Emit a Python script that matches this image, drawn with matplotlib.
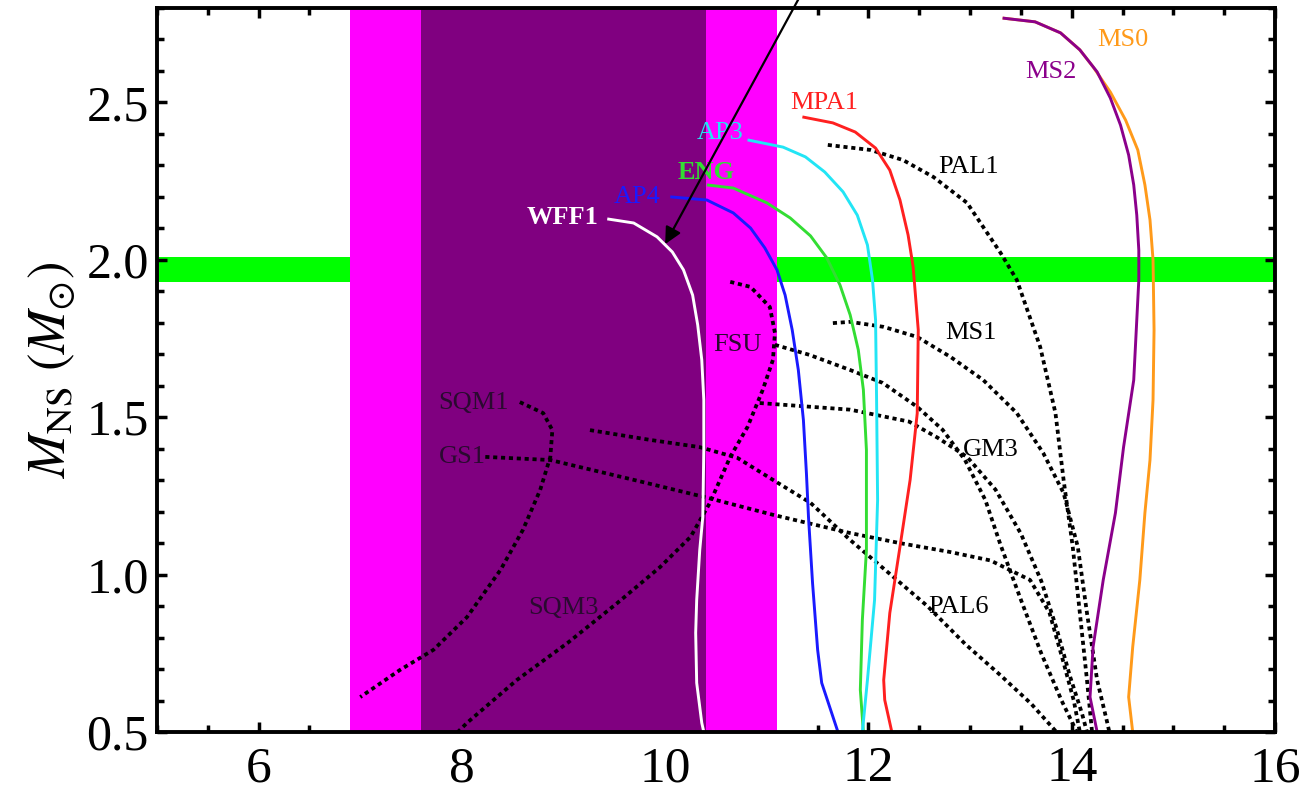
import matplotlib
matplotlib.use("Agg")
import matplotlib.pyplot as plt
from matplotlib.ticker import MultipleLocator

plt.rcParams['font.family'] = ['Liberation Serif', 'DejaVu Serif']
plt.rcParams['mathtext.fontset'] = 'stix'

# ---------------- data (radius km, mass Msun) ----------------
wff1_r = [9.43, 9.69, 9.92, 10.07, 10.18, 10.27, 10.32, 10.36, 10.38, 10.38, 10.37, 10.34, 10.31, 10.30, 10.31, 10.36, 10.38]
wff1_m = [2.13, 2.117, 2.073, 2.025, 1.968, 1.888, 1.793, 1.682, 1.555, 1.396, 1.183, 1.078, 0.919, 0.815, 0.656, 0.529, 0.50]

ap4_r = [10.05, 10.41, 10.67, 10.84, 10.98, 11.10, 11.18, 11.25, 11.31, 11.36, 11.39, 11.41, 11.45, 11.50, 11.54, 11.70]
ap4_m = [2.200, 2.190, 2.149, 2.101, 2.038, 1.968, 1.888, 1.777, 1.650, 1.491, 1.320, 1.183, 0.973, 0.761, 0.656, 0.500]

eng_r = [10.41, 10.67, 11.00, 11.23, 11.43, 11.59, 11.72, 11.82, 11.90, 11.95, 11.98, 11.98, 11.94, 11.92, 11.95]
eng_m = [2.238, 2.228, 2.181, 2.133, 2.076, 2.006, 1.920, 1.825, 1.714, 1.587, 1.396, 1.078, 0.856, 0.634, 0.500]

ap3_r = [10.81, 11.16, 11.38, 11.57, 11.75, 11.89, 11.99, 12.04, 12.07, 12.08, 12.09, 12.06, 11.99, 11.94]
ap3_m = [2.381, 2.358, 2.327, 2.279, 2.216, 2.142, 2.047, 1.936, 1.809, 1.555, 1.237, 0.919, 0.665, 0.500]

mpa1_r = [11.35, 11.65, 11.87, 12.07, 12.21, 12.31, 12.39, 12.44, 12.49, 12.48, 12.41, 12.31, 12.21, 12.15, 12.16, 12.23]
mpa1_m = [2.454, 2.435, 2.406, 2.355, 2.285, 2.190, 2.079, 1.977, 1.777, 1.513, 1.301, 1.088, 0.878, 0.665, 0.602, 0.500]

ms2_r = [13.32, 13.64, 13.89, 14.08, 14.25, 14.38, 14.48, 14.56, 14.61, 14.64, 14.66, 14.66, 14.61, 14.51, 14.43, 14.31, 14.21, 14.18, 14.25]
ms2_m = [2.768, 2.756, 2.721, 2.667, 2.597, 2.514, 2.428, 2.333, 2.238, 2.142, 2.031, 1.936, 1.618, 1.405, 1.196, 0.983, 0.770, 0.611, 0.500]

ms0_r = [13.32, 13.64, 13.89, 14.08, 14.21, 14.38, 14.53, 14.65, 14.72, 14.77, 14.80, 14.81, 14.80, 14.77, 14.72, 14.67, 14.60, 14.56, 14.60]
ms0_m = [2.768, 2.756, 2.721, 2.667, 2.613, 2.533, 2.444, 2.349, 2.238, 2.127, 2.000, 1.777, 1.555, 1.364, 1.196, 0.983, 0.770, 0.611, 0.500]

pal1_r = [11.60, 12.02, 12.34, 12.64, 12.97, 13.30, 13.46, 13.69, 13.84, 13.92, 14.01, 14.08, 14.15, 14.20]
pal1_m = [2.365, 2.349, 2.317, 2.263, 2.181, 2.022, 1.936, 1.723, 1.513, 1.301, 1.088, 0.878, 0.665, 0.500]

ms1_r = [11.65, 11.82, 12.15, 12.48, 12.81, 13.13, 13.46, 13.72, 13.92, 14.06, 14.15, 14.25, 14.35, 14.37]
ms1_m = [1.799, 1.803, 1.787, 1.755, 1.691, 1.618, 1.513, 1.386, 1.259, 1.088, 0.878, 0.665, 0.529, 0.500]

fsu_r = [11.08, 11.42, 11.82, 12.14, 12.48, 12.73, 12.95, 13.15, 13.30, 13.50, 13.70, 13.90, 14.05]
fsu_m = [1.730, 1.698, 1.650, 1.609, 1.533, 1.460, 1.364, 1.237, 1.094, 0.920, 0.750, 0.600, 0.500]

gm3_r = [10.93, 11.82, 12.40, 12.68, 12.97, 13.25, 13.50, 13.70, 13.85, 13.98, 14.10, 14.15]
gm3_m = [1.545, 1.524, 1.486, 1.435, 1.374, 1.270, 1.130, 0.980, 0.830, 0.680, 0.560, 0.500]

gs1_r = [8.23, 8.87, 9.69, 10.38, 11.06, 11.82, 12.31, 12.80, 13.20, 13.59, 13.78, 13.92, 14.02, 14.08]
gs1_m = [1.374, 1.364, 1.301, 1.247, 1.190, 1.132, 1.100, 1.072, 1.045, 0.983, 0.880, 0.720, 0.600, 0.500]

pal6_r = [9.26, 9.85, 10.34, 10.71, 11.06, 11.43, 11.82, 12.28, 12.58, 12.95, 13.30, 13.60, 13.85]
pal6_m = [1.459, 1.428, 1.405, 1.371, 1.301, 1.228, 1.110, 0.983, 0.900, 0.780, 0.680, 0.590, 0.500]

sqm1_r = [8.57, 8.80, 8.89, 8.87, 8.77, 8.60, 8.38, 8.05, 7.72, 7.39, 7.00]
sqm1_m = [1.548, 1.513, 1.459, 1.374, 1.269, 1.142, 1.015, 0.865, 0.761, 0.697, 0.611]

sqm3_r = [10.64, 10.84, 11.03, 11.08, 11.06, 10.96, 10.81, 10.64, 10.44, 10.25, 9.95, 9.53, 9.04, 8.54, 8.05, 7.96]
sqm3_m = [1.930, 1.914, 1.850, 1.768, 1.682, 1.587, 1.469, 1.374, 1.228, 1.120, 1.024, 0.910, 0.783, 0.665, 0.529, 0.500]

# constraint bands
mass_band = [1.93, 2.01]
radius_outer = [6.9, 11.1]
radius_inner = [7.6, 10.4]

solid_curves = [
    ("WFF1", wff1_r, wff1_m, "white"),
    ("AP4", ap4_r, ap4_m, "#1a1aff"),
    ("ENG", eng_r, eng_m, "#33dd33"),
    ("AP3", ap3_r, ap3_m, "#22e5f5"),
    ("MPA1", mpa1_r, mpa1_m, "#ff2020"),
    ("MS0", ms0_r, ms0_m, "#ff9a1a"),
    ("MS2", ms2_r, ms2_m, "#8b008b"),
]
dotted_curves = [
    ("PAL1", pal1_r, pal1_m), ("MS1", ms1_r, ms1_m), ("FSU", fsu_r, fsu_m),
    ("GM3", gm3_r, gm3_m), ("GS1", gs1_r, gs1_m), ("PAL6", pal6_r, pal6_m),
    ("SQM1", sqm1_r, sqm1_m), ("SQM3", sqm3_r, sqm3_m),
]

# label positions (x, y, color, weight, ha)
labels = {
    "WFF1": (9.34, 2.133, "white", "bold", "right"),
    "AP4": (9.49, 2.20, "#1a1aff", "normal", "left"),
    "ENG": (10.12, 2.279, "#33dd33", "bold", "left"),
    "AP3": (10.31, 2.403, "#22e5f5", "normal", "left"),
    "MPA1": (11.23, 2.498, "#ff2020", "normal", "left"),
    "MS0": (14.25, 2.698, "#ff9a1a", "normal", "left"),
    "MS2": (13.54, 2.597, "#8b008b", "normal", "left"),
    "PAL1": (12.69, 2.295, "black", "normal", "left"),
    "MS1": (12.76, 1.768, "black", "normal", "left"),
    "GM3": (12.93, 1.396, "black", "normal", "left"),
    "PAL6": (12.59, 0.897, "black", "normal", "left"),
    "FSU": (10.47, 1.73, "#2a0a30", "normal", "left"),
    "SQM1": (7.77, 1.545, "#2a0a30", "normal", "left"),
    "GS1": (7.77, 1.374, "#2a0a30", "normal", "left"),
    "SQM3": (8.65, 0.894, "#2a0a30", "normal", "left"),
}

# ---------------- figure ----------------
fig = plt.figure(figsize=(13.07, 7.91), dpi=100)
ax = fig.add_axes([157/1307, 1-732/791, (1275-157)/1307, (732-8)/791])
ax.set_xlim(5, 16)
ax.set_ylim(0.5, 2.8)

ax.axhspan(mass_band[0], mass_band[1], color="#00ff00", lw=0, zorder=1)
ax.axvspan(radius_outer[0], radius_outer[1], color="#ff00ff", lw=0, zorder=2)
ax.axvspan(radius_inner[0], radius_inner[1], color="#800080", lw=0, zorder=3)

for name, r, m in dotted_curves:
    ax.plot(r, m, color="black", lw=2.7, linestyle=(0, (1.1, 1.0)), zorder=4)
for name, r, m, c in solid_curves:
    ax.plot(r, m, color=c, lw=2.1, zorder=5, solid_capstyle="butt", solid_joinstyle="round")

for name, (x, y, c, w, ha) in labels.items():
    ax.text(x, y, name, color=c, fontsize=19, fontweight=w, ha=ha, va="center", zorder=6)

ax.annotate("", xy=(10.0, 2.05), xytext=(11.36, 2.857), xycoords="data",
            arrowprops=dict(arrowstyle="-|>", color="black", lw=1.6,
                            mutation_scale=25, shrinkA=0, shrinkB=0),
            annotation_clip=False, zorder=7)

for s in ax.spines.values():
    s.set_linewidth(2.8)
    s.set_zorder(8)
ax.xaxis.set_major_locator(MultipleLocator(2))
ax.xaxis.set_minor_locator(MultipleLocator(0.5))
ax.yaxis.set_major_locator(MultipleLocator(0.5))
ax.yaxis.set_minor_locator(MultipleLocator(0.1))
ax.tick_params(which="both", direction="in", top=True, right=True, width=2.5, zorder=9)
ax.tick_params(which="major", length=7)
ax.tick_params(which="minor", length=5)
ax.tick_params(axis="y", which="major", labelsize=36, pad=6)
ax.tick_params(axis="x", which="major", labelsize=37, pad=10)
ax.set_yticks([0.5, 1.0, 1.5, 2.0, 2.5])
ax.set_yticklabels(["0.5", "1.0", "1.5", "2.0", "2.5"])
ax.set_ylabel(r"$M_{\rm NS}\ (M_{\odot})$", fontsize=38)
ax.yaxis.set_label_coords(-0.071, 0.5)

fig.savefig("out.png", dpi=100)
